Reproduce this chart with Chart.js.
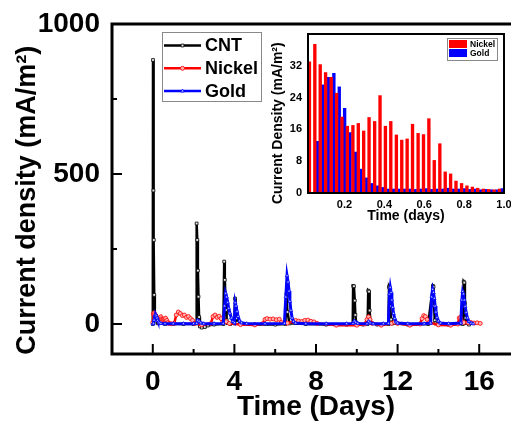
<!DOCTYPE html>
<html>
<head>
<meta charset="utf-8">
<script src="https://cdn.jsdelivr.net/npm/chart.js@4.4.1/dist/chart.umd.min.js"></script>
<style>
  html, body { margin: 0; padding: 0; background: #fff; overflow: hidden; }
  #wrap { position: relative; width: 511px; height: 425px; overflow: hidden; }
  #mainChart { position: absolute; left: 0; top: 0; }
  #insetChart { position: absolute; left: 262px; top: 28px; }
</style>
</head>
<body>
<div id="wrap">
  <canvas id="mainChart" width="525" height="425"></canvas>
  <canvas id="insetChart" width="249" height="202"></canvas>
</div>
<script>
// main plot: [time (days), current density (mA/m2)]
const cntPoints = [[0,0],[0.01,880],[0.03,445],[0.05,280],[0.07,97],[0.10,25],[0.14,8],[0.25,2],[0.6,0],[1.0,0],[1.5,0],[2.0,0],
  [2.12,2],[2.15,335],[2.18,280],[2.21,178],[2.24,91],[2.27,23],[2.31,-8],[2.4,-12],[2.55,-10],[2.7,-5],[3.0,-2],
  [3.46,0],[3.5,208],[3.53,147],[3.56,91],[3.59,47],[3.62,13],[3.66,3],[3.8,0],[4.0,2],[4.03,85],[4.06,52],[4.09,19],[4.14,4],
  [4.3,0],[5.0,-2],[6.0,-2],[6.5,0],[6.55,100],[6.6,40],[6.7,2],[7.5,0],[8.5,-2],[9.5,-2],[9.8,0],[9.82,127],[9.86,126],
  [9.9,78],[9.93,30],[9.97,4],[10.3,-2],[10.53,0],[10.56,111],[10.6,108],[10.63,45],[10.67,5],[11.0,-2],[11.55,0],
  [11.58,124],[11.61,120],[11.64,60],[11.68,15],[11.75,2],[12.5,-2],[13.5,0],[13.73,127],[13.76,124],[13.79,60],
  [13.82,12],[13.86,2],[14.5,-2],[15.2,0],[15.24,141],[15.27,138],[15.3,70],[15.33,20],[15.37,3],[15.5,-2]];

const nickelPoints = [[0,5],[0.03,33],[0.06,37],[0.09,32],[0.14,29],[0.17,25],[0.2,19],[0.25,17],[0.3,16],[0.33,19],
  [0.39,24],[0.41,17],[0.47,15],[0.52,14],[0.55,17],[0.6,15],[0.63,19],[0.66,8],[0.69,12],[0.74,5],[0.8,2],[0.9,1],
  [1.05,2],[1.15,30],[1.25,40],[1.35,35],[1.45,28],[1.55,30],[1.65,22],[1.75,25],[1.85,18],[1.95,12],[2.05,2],[2.4,-3],
  [2.85,2],[2.95,25],[3.05,30],[3.15,22],[3.25,26],[3.35,18],[3.42,5],[3.6,8],[3.75,2],[4.3,-2],[5.0,-3],[5.4,2],
  [5.5,15],[5.6,18],[5.75,16],[5.9,17],[6.05,14],[6.2,16],[6.3,5],[6.6,3],[6.9,8],[7.0,12],[7.15,10],[7.3,8],[7.45,12],
  [7.6,13],[7.75,9],[7.9,7],[8.05,2],[9.0,-4],[10.0,-4],[10.4,0],[10.5,15],[10.58,24],[10.65,15],[10.75,2],[11.2,-4],
  [11.7,2],[11.85,6],[12.0,2],[12.6,-4],[13.1,0],[13.2,18],[13.28,28],[13.36,25],[13.45,15],[13.55,5],[14.0,-3],
  [14.6,-4],[14.95,0],[15.02,20],[15.08,22],[15.14,10],[15.25,5],[15.45,4],[15.6,5],[15.75,3],[15.9,4],[16.05,2]];

const goldPoints = [[0,0],[0.03,2],[0.06,13],[0.09,27],[0.12,29],[0.15,30],[0.18,26],[0.21,20],[0.25,12],[0.29,6],
  [0.33,3],[0.4,1.5],[0.6,1],[1.0,1],[1.5,1],[2.0,1],[2.15,2],[2.2,12],[2.27,9],[2.35,4],[2.5,1],[3.0,1],[3.45,2],
  [3.52,60],[3.57,102],[3.62,90],[3.67,72],[3.72,52],[3.78,36],[3.85,20],[3.93,8],[4.0,4],[4.04,71],[4.08,60],[4.13,42],
  [4.18,25],[4.25,10],[4.35,4],[4.6,1],[5.5,1],[6.45,2],[6.52,90],[6.58,161],[6.63,140],[6.68,110],[6.72,75],[6.77,45],
  [6.83,20],[6.9,8],[7.0,3],[7.5,1],[8.5,1],[9.5,1],[9.82,2],[9.88,10],[9.95,6],[10.05,2],[10.5,1],[10.58,8],[10.65,4],
  [10.8,1],[11.3,1],[11.55,2],[11.6,100],[11.64,122],[11.68,105],[11.72,80],[11.76,55],[11.8,35],[11.86,18],[11.93,7],
  [12.0,3],[12.5,1],[13.3,1],[13.62,3],[13.67,90],[13.72,115],[13.76,105],[13.8,85],[13.84,60],[13.88,40],[13.93,22],
  [14.0,10],[14.1,3],[14.5,1],[15.1,3],[15.15,80],[15.19,108],[15.23,100],[15.27,80],[15.31,58],[15.36,38],[15.42,20],
  [15.5,8],[15.6,3],[15.7,1]];

const xMajorTicks = [0, 4, 8, 12, 16];
const xMinorTicks = [2, 6, 10, 14];
const yMajorTicks = [0, 500, 1000];
const yMinorTicks = [250, 750];

// inset: first day, bars
const insetTime = [0.031, 0.058, 0.085, 0.112, 0.140, 0.167, 0.194, 0.221, 0.249, 0.276, 0.303, 0.330, 0.358, 0.385,
  0.412, 0.439, 0.467, 0.494, 0.521, 0.548, 0.576, 0.603, 0.630, 0.657, 0.685, 0.712, 0.739, 0.766, 0.794, 0.821,
  0.848, 0.875, 0.903, 0.930, 0.957, 0.984];
const insetNickel = [33, 37.4, 32.3, 30.3, 29.1, 25.1, 19.1, 16.8, 17, 17.5, 15.6, 19, 18, 24.5, 16.8, 18, 14.6, 13.3,
  13.6, 17.3, 15, 14.7, 18.7, 8.2, 12.4, 5.3, 4.8, 3, 2.4, 1.8, 1.5, 1.2, 1, 0.9, 0.8, 1];
const insetGold = [0, 13, 27.2, 29.1, 30.1, 26.7, 21.3, 15.2, 10.3, 6, 3.8, 2.4, 1.8, 1.4, 1, 1, 1, 1, 1, 0.9, 1, 1.1,
  0.9, 1, 1, 1.2, 1, 1, 1.1, 0.9, 1, 0.8, 0.9, 0.8, 0.8, 1.1];
const insetXTicks = [0.2, 0.4, 0.6, 0.8, 1.0];
const insetYTicks = [0, 8, 16, 24, 32];

const FONT = "'Liberation Sans', Arial, sans-serif";
const NBSP = '\u00a0';

function lineSeries(label, pts, color, style, fill, width, order) {
  return {
    label: label,
    data: pts.map(p => ({x: p[0], y: p[1]})),
    borderColor: color,
    backgroundColor: color,
    borderWidth: width,
    pointStyle: style,
    pointRadius: 2,
    pointBorderWidth: 0.8,
    pointBackgroundColor: fill,
    pointBorderColor: color,
    tension: 0,
    order: order
  };
}

// keep the plot box where the layout padding puts it
function noXPad(s, h) { s.height = h; s.paddingLeft = 0; s.paddingRight = 0; }
function noYPad(s, w) { s.width = w; s.paddingTop = 0; s.paddingBottom = 0; }

// frame, inward ticks and the boxed legend of the main plot
const mainDecor = {
  id: 'mainDecor',
  afterDraw(chart) {
    const {ctx, chartArea: a, scales: {x, y}} = chart;
    ctx.save();
    ctx.strokeStyle = '#000';
    ctx.lineWidth = 3;
    ctx.strokeRect(a.left, a.top, a.right - a.left, a.bottom - a.top);
    ctx.lineWidth = 2;
    ctx.beginPath();
    xMajorTicks.forEach(v => { const p = x.getPixelForValue(v); ctx.moveTo(p, a.bottom); ctx.lineTo(p, a.bottom - 10); });
    xMinorTicks.forEach(v => { const p = x.getPixelForValue(v); ctx.moveTo(p, a.bottom); ctx.lineTo(p, a.bottom - 5); });
    yMajorTicks.forEach(v => { const p = y.getPixelForValue(v); ctx.moveTo(a.left, p); ctx.lineTo(a.left + 10, p); });
    yMinorTicks.forEach(v => { const p = y.getPixelForValue(v); ctx.moveTo(a.left, p); ctx.lineTo(a.left + 5, p); });
    ctx.stroke();

    // legend
    const lx = 162, ly = 32, lw = 99, lh = 69;
    ctx.fillStyle = '#fff';
    ctx.fillRect(lx, ly, lw, lh);
    ctx.strokeStyle = '#888';
    ctx.lineWidth = 1;
    ctx.strokeRect(lx + 0.5, ly + 0.5, lw, lh);
    ctx.font = 'bold 18px ' + FONT;
    ctx.textBaseline = 'middle';
    chart.data.datasets.forEach((ds, i) => {
      const ry = ly + 13.5 + i * 22.8;
      ctx.strokeStyle = ds.borderColor;
      ctx.lineWidth = 2.5;
      ctx.beginPath();
      ctx.moveTo(lx + 2, ry);
      ctx.lineTo(lx + 39, ry);
      ctx.stroke();
      ctx.fillStyle = ds.pointBackgroundColor;
      ctx.lineWidth = 0.8;
      Chart.helpers.drawPoint(ctx, {pointStyle: ds.pointStyle, radius: 2, borderWidth: 0.8, rotation: 0}, lx + 20.5, ry);
      ctx.fillStyle = '#000';
      ctx.fillText(ds.label, lx + 43, ry + 1);
    });
    ctx.restore();
  }
};

new Chart(document.getElementById('mainChart'), {
  type: 'line',
  data: {
    datasets: [
      lineSeries('CNT', cntPoints, '#000000', 'rect', '#e6e6e6', 2.5, 3),
      lineSeries('Nickel', nickelPoints, '#ff0000', 'circle', '#ffb4b4', 2.5, 2),
      lineSeries('Gold', goldPoints, '#0000ff', 'triangle', '#b4c4ff', 3, 1)
    ]
  },
  options: {
    responsive: false,
    animation: false,
    devicePixelRatio: 1,
    layout: { padding: { top: 24, right: 5, left: 0, bottom: 0 } },
    plugins: { legend: { display: false }, tooltip: { enabled: false } },
    scales: {
      x: {
        type: 'linear', min: -2, max: 18,
        grid: { display: false, drawTicks: false },
        border: { display: false },
        afterBuildTicks: s => { s.ticks = xMajorTicks.map(v => ({value: v})); },
        afterFit: s => noXPad(s, 71),
        ticks: { color: '#000', padding: 11, maxRotation: 0, autoSkip: false,
                 callback: v => String(v), font: { family: FONT, size: 28, weight: 'bold' } },
        title: { display: true, text: 'Time (Days)', color: '#000', padding: { top: 0, bottom: 1 },
                 font: { family: FONT, size: 28, weight: 'bold' } }
      },
      y: {
        min: -100, max: 1000,
        grid: { display: false, drawTicks: false },
        border: { display: false },
        afterBuildTicks: s => { s.ticks = yMajorTicks.map(v => ({value: v})); },
        afterFit: s => noYPad(s, 112),
        ticks: { color: '#000', padding: 12, autoSkip: false,
                 callback: v => String(v), font: { family: FONT, size: 28, weight: 'bold' } },
        title: { display: true, text: 'Current density (mA/m²)' + NBSP.repeat(3), color: '#000',
                 padding: { top: 11, bottom: 0 }, font: { family: FONT, size: 27, weight: 'bold' } }
      }
    }
  },
  plugins: [mainDecor]
});

// frame and legend of the inset
const insetDecor = {
  id: 'insetDecor',
  afterDraw(chart) {
    const {ctx, chartArea: a} = chart;
    ctx.save();
    ctx.strokeStyle = '#000';
    ctx.lineWidth = 2;
    ctx.strokeRect(a.left, a.top, a.right - a.left, a.bottom - a.top);
    const lx = 185, ly = 10, lw = 50, lh = 22;
    ctx.fillStyle = '#fff';
    ctx.fillRect(lx, ly, lw, lh);
    ctx.strokeStyle = '#888';
    ctx.lineWidth = 1;
    ctx.strokeRect(lx + 0.5, ly + 0.5, lw, lh);
    ctx.font = 'bold 8.5px ' + FONT;
    ctx.textBaseline = 'middle';
    chart.data.datasets.forEach((ds, i) => {
      const ry = ly + 2 + i * 9;
      ctx.fillStyle = ds.backgroundColor;
      ctx.fillRect(lx + 2, ry, 18, 8);
      ctx.fillStyle = '#000';
      ctx.fillText(ds.label, lx + 23, ry + 4.5);
    });
    ctx.restore();
  }
};

new Chart(document.getElementById('insetChart'), {
  type: 'bar',
  data: {
    datasets: [
      { label: 'Nickel', data: insetTime.map((t, i) => ({x: t, y: insetNickel[i]})), backgroundColor: '#ff0000',
        categoryPercentage: 1, barPercentage: 1 },
      { label: 'Gold', data: insetTime.map((t, i) => ({x: t, y: insetGold[i]})), backgroundColor: '#0000ff',
        categoryPercentage: 1, barPercentage: 1 }
    ]
  },
  options: {
    responsive: false,
    animation: false,
    devicePixelRatio: 1,
    layout: { padding: { top: 6, right: 7, left: 0, bottom: 0 } },
    plugins: { legend: { display: false }, tooltip: { enabled: false } },
    scales: {
      x: {
        type: 'linear', min: 0.017, max: 1.0, offset: false,
        grid: { display: false, drawTicks: false },
        border: { display: false },
        afterBuildTicks: s => { s.ticks = insetXTicks.map(v => ({value: v})); },
        afterFit: s => noXPad(s, 37),
        ticks: { color: '#000', padding: 5, maxRotation: 0, autoSkip: false,
                 callback: v => v.toFixed(1), font: { family: FONT, size: 11, weight: 'bold' } },
        title: { display: true, text: 'Time (days)', color: '#000', padding: { top: 0, bottom: 5 },
                 font: { family: FONT, size: 14, weight: 'bold' } }
      },
      y: {
        min: 0, max: 40,
        grid: { display: false, drawTicks: false },
        border: { display: false },
        afterBuildTicks: s => { s.ticks = insetYTicks.map(v => ({value: v})); },
        afterFit: s => noYPad(s, 46),
        ticks: { color: '#000', padding: 6, autoSkip: false,
                 font: { family: FONT, size: 11, weight: 'bold' } },
        title: { display: true, text: 'Current Density (mA/m²)' + NBSP.repeat(5), color: '#000',
                 padding: { top: 8, bottom: 0 }, font: { family: FONT, size: 14, weight: 'bold' } }
      }
    }
  },
  plugins: [insetDecor]
});
</script>
</body>
</html>
